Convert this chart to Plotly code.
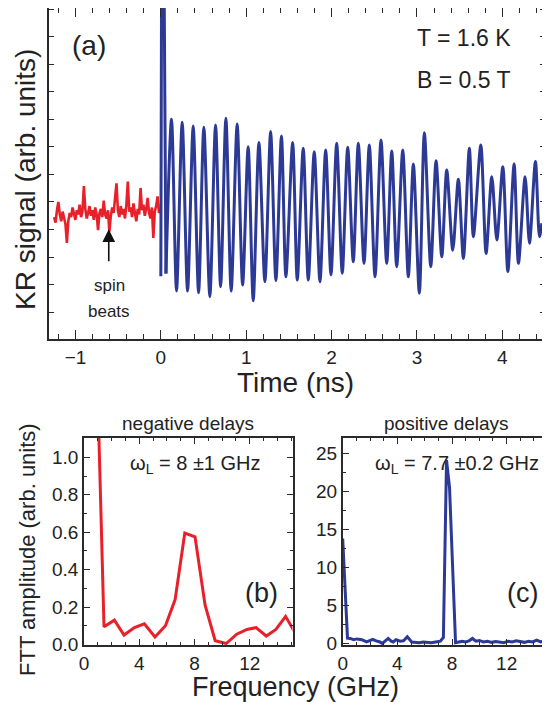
import numpy as np
import plotly.graph_objects as go

# ---------------- data ----------------
# (a) Kerr rotation signal, negative delays (red)
red_t = np.linspace(-1.25, -0.005, 76)
red_y = [-0.55, -0.75, -0.30, 0.00, -0.45, -0.70, -0.35, -0.60, -0.80, -1.49,
         -0.70, -0.40, -0.55, -0.20, -0.50, -0.65, -0.30, -0.45, -0.10, -0.55,
         -0.35, 0.58, -0.25, -0.60, -0.40, -0.15, -0.50, -0.30, -0.65, -0.20,
         -0.45, -1.02, -0.40, -0.25, -0.55, 0.05, -0.45, -0.60, -0.30, -1.08,
         -0.50, -0.20, -0.40, 0.10, 0.68, -0.30, -0.55, -0.15, -0.45, -0.25,
         -0.60, -0.10, 0.74, -0.35, -0.20, -0.55, -0.05, -0.40, -0.70, -0.25,
         -0.45, 0.51, -0.30, -0.10, -0.50, -0.25, 0.15, -0.40, -0.60, -0.20,
         -1.31, -0.35, -0.15, 0.20, -0.40, -0.30]

# (a) positive delays (blue): spike at zero
spike_t = [0.0, 0.012, 0.03, 0.06]
spike_y = [-2.7, 12.0, 12.0, -2.6]
# (a) positive delays (blue): successive peaks/troughs
blue_t = [0.06,
          0.125, 0.184, 0.250, 0.313, 0.379, 0.442, 0.504, 0.574, 0.641, 0.700,
          0.762, 0.824, 0.894, 0.958, 1.023, 1.082, 1.149, 1.219, 1.286, 1.348,
          1.413, 1.465, 1.544, 1.598, 1.668, 1.727, 1.797, 1.864, 1.931, 1.993,
          2.060, 2.125, 2.189, 2.254, 2.313, 2.380, 2.442, 2.509, 2.579, 2.646,
          2.705, 2.763, 2.834, 2.899, 2.958, 3.028, 3.087, 3.162, 3.224, 3.291,
          3.349, 3.420, 3.485, 3.544, 3.614, 3.661, 3.748, 3.810, 3.877, 3.936,
          4.006, 4.065, 4.138, 4.189, 4.267, 4.318, 4.388, 4.435, 4.463]
blue_y = [-2.6,
          3.01, -3.24, 2.90, -3.24, 2.76, -3.30, 2.72, -3.44, 2.80, -3.08,
          3.04, -3.24, 2.83, -3.02, 2.01, -3.59, 2.16, -2.90, 2.56, -2.86,
          2.40, -2.72, 2.16, -2.84, 1.95, -2.84, 1.83, -2.90, 1.89, -2.65,
          2.13, -2.59, 1.99, -2.17, 2.13, -2.23, 2.07, -2.72, 2.25, -2.23,
          1.85, -2.35, 1.89, -2.72, 1.38, -3.32, 2.52, -2.35, 1.50, -1.99,
          1.16, -1.75, 0.83, -2.05, 1.95, -1.26, 2.07, -1.87, 0.92, -1.38,
          1.28, -2.53, 1.38, -2.23, 0.92, -1.50, 1.47, -1.26, -0.77]

# (b) FFT, negative delays
neg_f = [0.9, 1.45, 2.2, 2.9, 3.65, 4.37, 5.14, 5.9, 6.6, 7.3, 8.04, 8.77,
         9.5, 10.3, 11.06, 11.8, 12.46, 13.2, 13.9, 14.6, 15.3]
neg_a = [1.6, 0.094, 0.13, 0.05, 0.09, 0.11, 0.04, 0.10, 0.24, 0.595, 0.575, 0.21,
         0.02, 0.005, 0.055, 0.08, 0.09, 0.045, 0.08, 0.15, 0.06]

# (c) FFT, positive delays
pos_f = [0.0, 0.35, 0.55, 0.8, 1.05, 1.4, 1.75, 2.0, 2.2, 2.45, 2.73, 2.9, 3.1,
         3.33, 3.55, 3.7, 3.9, 4.2, 4.45, 4.73, 5.05, 5.3, 5.6, 5.9, 6.2, 6.5,
         6.8, 7.15, 7.37, 7.6, 7.82, 8.04, 8.26, 8.5, 8.75, 9.0, 9.25, 9.5,
         9.75, 10.0, 10.3, 10.6, 10.9, 11.2, 11.5, 11.8, 12.1, 12.4, 12.7,
         13.0, 13.3, 13.6, 13.9, 14.2, 14.5, 14.8, 15.2]
pos_a = [13.8, 0.7, 0.66, 0.5, 0.6, 0.5, 0.2, 0.4, 0.55, 0.35, 0.2, 0.0, 0.3,
         0.66, 0.3, 0.2, 0.5, 0.3, 0.35, 0.88, 0.2, 0.15, 0.1, 0.2, 0.15, 0.1,
         0.2, 0.3, 0.8, 24.1, 20.5, 10.5, 0.1, 0.2, 0.3, 0.2, 0.35, 0.66,
         0.3, 0.4, 0.2, 0.3, 0.15, 0.25, 0.2, 0.1, 0.3, 0.2, 0.35, 0.2,
         0.15, 0.3, 0.2, 0.45, 0.2, 0.35, 0.3]

RED = "#e8202a"
BLUE = "#2c3a96"
AX = "#2a2a2a"
FONT = "Liberation Sans, Arial, sans-serif"

fig = go.Figure()
fig.add_trace(go.Scatter(x=red_t, y=red_y, mode="lines", line=dict(color=RED, width=2.6),
                         xaxis="x", yaxis="y", showlegend=False))
fig.add_trace(go.Scatter(x=spike_t, y=spike_y, mode="lines", line=dict(color=BLUE, width=3),
                         xaxis="x", yaxis="y", showlegend=False))
fig.add_trace(go.Scatter(x=blue_t, y=blue_y, mode="lines",
                         line=dict(color=BLUE, width=3, shape="spline", smoothing=0.8),
                         xaxis="x", yaxis="y", showlegend=False))
fig.add_trace(go.Scatter(x=neg_f, y=neg_a, mode="lines", line=dict(color=RED, width=3),
                         xaxis="x2", yaxis="y2", showlegend=False))
fig.add_trace(go.Scatter(x=pos_f, y=pos_a, mode="lines", line=dict(color=BLUE, width=3),
                         xaxis="x3", yaxis="y3", showlegend=False))

common = dict(showline=True, linecolor=AX, linewidth=1.6, mirror="allticks",
              ticks="inside", tickcolor=AX, tickwidth=1.3, showgrid=False,
              zeroline=False, automargin=False,
              tickfont=dict(family=FONT, size=19, color="#222"))

# The page body adds an 8 px offset, so the paper is placed 8 px in from the corner.
OFF = 8
W, H = 550 - OFF, 702 - OFF
def px(x): return (x - OFF) / W
def py(y): return 1 - (y - OFF) / H

fig.update_layout(
    width=W, height=H, margin=dict(l=0, r=0, t=0, b=0, autoexpand=False),
    paper_bgcolor="white", plot_bgcolor="white",
    font=dict(family=FONT, color="#222"),
    xaxis=dict(domain=[px(49), px(545)], range=[-1.31, 4.5], anchor="y",
               tick0=0, dtick=1, ticklen=9,
               minor=dict(dtick=0.2, tick0=0, ticklen=5, ticks="inside", tickcolor=AX, showgrid=False),
               **common),
    yaxis=dict(domain=[py(339), py(8)], range=[-4.98, 7.05], anchor="x",
               tick0=0, dtick=1, ticklen=5, showticklabels=False, **common),
    xaxis2=dict(domain=[px(84), px(292.5)], range=[0, 15.1], anchor="y2",
                tick0=0, dtick=4, ticklen=6,
                minor=dict(dtick=1, tick0=0, ticklen=3, ticks="inside", tickcolor=AX, showgrid=False),
                **common),
    yaxis2=dict(domain=[py(645), py(437.7)], range=[-0.003, 1.105], anchor="x2",
                tick0=0, dtick=0.2, ticklen=6, tickformat=".1f",
                minor=dict(dtick=0.1, tick0=0, ticklen=3, ticks="inside", tickcolor=AX, showgrid=False),
                **common),
    xaxis3=dict(domain=[px(342.7), px(549)], range=[0, 15.1], anchor="y3",
                tick0=0, dtick=4, ticklen=6,
                minor=dict(dtick=1, tick0=0, ticklen=3, ticks="inside", tickcolor=AX, showgrid=False),
                **common),
    yaxis3=dict(domain=[py(645), py(437.7)], range=[-0.2, 27.05], anchor="x3",
                tick0=0, dtick=5, ticklen=6,
                minor=dict(dtick=2.5, tick0=0, ticklen=3, ticks="inside", tickcolor=AX, showgrid=False),
                **common),
)

ann = []
def t(text, x, y, size, xref="paper", yref="paper", angle=0, xanchor="center"):
    ann.append(dict(text=text, x=x, y=y, xref=xref, yref=yref, showarrow=False,
                    textangle=angle, xanchor=xanchor, yanchor="middle",
                    font=dict(family=FONT, size=size, color="#222")))

# panel (a)
t("(a)", px(89), py(45), 28)
t("T = 1.6 K", px(415), py(38), 23, xanchor="left")
t("B = 0.5 T", px(415), py(80), 23, xanchor="left")
t("spin", px(109), py(285), 17)
t("beats", px(109), py(311), 17)
t("KR signal (arb. units)", px(25), py(180), 28, angle=-90)
t("Time (ns)", px(295), py(382), 28)
ann.append(dict(x=-0.61, y=-0.99, ax=-0.61, ay=-2.21, xref="x", yref="y", axref="x", ayref="y",
                showarrow=True, arrowhead=2, arrowsize=1.6, arrowwidth=1.6, arrowcolor="#111", text=""))

# panel (b)
t("negative delays", px(188), py(423), 19)
t("ω<sub>L</sub> = 8 ±1 GHz", px(128), py(464), 20, xanchor="left")
t("(b)", px(261), py(593), 27)
t("FTT amplitude (arb. units)", px(27), py(550), 22, angle=-90)

# panel (c)
t("positive delays", px(446), py(423), 19)
t("ω<sub>L</sub> = 7.7 ±0.2 GHz", px(373), py(464), 20, xanchor="left")
t("(c)", px(522), py(593), 27)

t("Frequency (GHz)", px(295), py(687), 27)

fig.update_layout(annotations=ann)
fig.write_html("out.html")
